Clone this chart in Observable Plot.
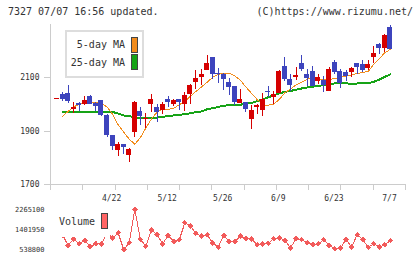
<!DOCTYPE html>
<html>
<head>
<meta charset="utf-8">
<script src="https://cdn.jsdelivr.net/npm/d3@7"></script>
<script src="https://cdn.jsdelivr.net/npm/@observablehq/plot@0.6"></script>
<style>
  html, body { margin: 0; padding: 0; background: #fff; }
  #wrap { position: relative; width: 420px; height: 259px; overflow: hidden;
          font-family: "DejaVu Sans Mono", monospace; color: #333; }
  #wrap svg { position: absolute; left: 0; shape-rendering: crispEdges; }
  .abs { position: absolute; white-space: nowrap; font-size: 10px; line-height: 12px; }
  .box { position: absolute; box-sizing: border-box; background: #fff; }
  .sw { position: absolute; box-sizing: border-box; border: 1px solid #444; }
</style>
</head>
<body>
<div id="wrap">
  <div class="abs" style="left:8px; top:6px;">7327 07/07 16:56 updated.</div>
  <div class="abs" style="right:7px; top:6px;">(C)https://www.rizumu.net/</div>
</div>
<script>
// Daily prices (open / high / low / close), one entry per trading day
const opens = [2018,2036,2041,1983,2004,1999,2030,2004,2014,1960,
  1882,1829,1849,1810,1895,1972,1942,1999,1987,1979,
  2017,1999,2017,1999,2039,2083,2100,2126,2175,2118,
  2111,2081,2066,2005,2007,1945,1989,1976,2049,2026,
  2041,2141,2095,2103,2152,2111,2122,2087,2091,2049,
  2156,2122,2120,2120,2154,2150,2135,2175,2224,2210,2288];
const highs = [2022,2045,2071,2007,2006,2030,2035,2006,2016,1962,
  1884,1856,1850,1835,2012,1989,1966,2039,2001,2007,
  2030,2020,2020,2045,2076,2126,2130,2182,2176,2135,
  2116,2097,2068,2058,2009,1995,2001,2040,2066,2049,
  2129,2175,2113,2138,2182,2130,2141,2111,2104,2139,
  2164,2133,2129,2137,2155,2164,2164,2216,2229,2261,2295];
const lows = [2018,2010,2004,1968,1972,1995,2000,1972,1955,1878,
  1826,1805,1814,1782,1876,1920,1911,1970,1932,1964,
  1989,1991,1978,1972,2001,2058,2070,2126,2095,2079,
  2051,2035,1995,2005,1970,1907,1964,1955,2026,2001,
  2040,2085,2049,2089,2122,2066,2066,2076,2045,2049,
  2111,2060,2086,2101,2111,2119,2126,2154,2188,2195,2205];
const closes = [2022,2020,2010,1988,1995,2014,2001,1992,1958,1885,
  1843,1851,1840,1830,2007,1955,1948,2020,1971,2001,
  2008,2014,2008,2032,2070,2097,2112,2154,2111,2112,
  2092,2062,2008,2020,1980,1976,1995,2020,2045,2036,
  2122,2095,2070,2108,2130,2099,2068,2101,2073,2130,
  2120,2079,2104,2135,2139,2127,2150,2191,2210,2258,2206];

// Moving averages
const ma5 = [null,1956,1974,1991,2001,2007,2007,2007,2004,1991,
  1963,1924,1896,1870,1851,1876,1912,1946,1971,1982,
  1982,1986,1999,2012,2031,2049,2066,2083,2102,2113,
  2118,2118,2107,2091,2065,2042,2019,1999,1997,2002,
  2019,2044,2058,2074,2083,2094,2102,2097,2092,2094,
  2097,2102,2106,2111,2116,2120,2124,2151,2173,2194,2207];
const ma25 = [null,1972,1972,1972,1972,1972,1972,1972,1972,1972,
  1972,1966,1959,1956,1952,1950,1948,1948,1951,1954,
  1956,1959,1961,1964,1967,1972,1974,1982,1986,1991,
  1995,1998,1998,1999,2004,2006,2012,2019,2027,2034,
  2042,2047,2051,2055,2060,2064,2067,2069,2073,2077,
  2079,2080,2080,2076,2079,2080,2080,2085,2093,2104,2113];

// Daily volume
const volumes = [1220000,1176000,711400,999200,783500,927200,668300,785300,781900,1258000,
  1028000,1258200,538800,826600,2265100,970400,682600,1390000,1171800,783500,
  1143000,884100,956000,1689700,1545700,1243800,1114200,1171800,826600,639400,
  1143000,884100,886200,1114200,999200,997800,740200,783500,812200,999200,
  1042400,927200,610700,999200,970400,826600,754600,783500,956000,711400,
  567600,596400,970400,639400,1171800,970400,639400,783500,641200,740200,927200];

// Axis labels
const dateLabels = ["4/22", "5/12", "5/26", "6/9", "6/23", "7/7"];
const dateLabelIdx = [10, 20, 30, 40, 50, 60];
const priceTicks = [1700, 1900, 2100];
const volumeTicks = [538800, 1401950, 2265100];

const RED = "#d60000", BLUE = "#3d44bd", ORANGE = "#f28c1c", GREEN = "#16a316", VOL = "#f25a5a", GRID = "#cccccc";

const rows = closes.map((c, i) => ({
  i, open: opens[i], high: highs[i], low: lows[i], close: c,
  ma5: ma5[i], ma25: ma25[i], col: c >= opens[i] ? RED : BLUE
}));
const vrows = volumes.map((v, i) => ({i, v}));

const xDomain = [-1.17, 62.7];
const hw = 0.45; // half body width in day units
const frameTicks = d3.range(12).map(k => xDomain[0] + k * (xDomain[1] - xDomain[0]) / 11);
const labelMap = new Map(dateLabelIdx.map((d, k) => [d, dateLabels[k]]));

const baseStyle = {background: "transparent", fontFamily: "DejaVu Sans Mono", color: "#333", overflow: "visible"};

const main = Plot.plot({
  width: 420, height: 205,
  marginLeft: 50, marginRight: 15, marginTop: 24, marginBottom: 21,
  style: {...baseStyle, fontSize: "8px"},
  x: {domain: xDomain, axis: null, label: null},
  y: {domain: [1700, 2300], axis: null, label: null},
  color: {type: "identity"},
  marks: [
    Plot.ruleY([1700], {stroke: GRID}),
    Plot.ruleX([xDomain[0]], {stroke: GRID}),
    Plot.axisX({ticks: frameTicks, tickSize: 6, tickFormat: () => "", stroke: GRID, label: null}),
    Plot.axisX({ticks: dateLabelIdx, tickSize: 0, tickPadding: 11, dx: -1,
      tickFormat: d => labelMap.get(d), fill: "#333", label: null}),
    Plot.axisY({ticks: priceTicks, tickSize: 6, tickPadding: 5, stroke: GRID, fill: "#333",
      tickFormat: d => String(d), label: null}),
    Plot.line(rows, {x: "i", y: "ma25", stroke: GREEN, strokeWidth: 2}),
    Plot.line(rows, {x: "i", y: "ma5", stroke: ORANGE, strokeWidth: 1}),
    Plot.ruleX(rows, {x: "i", y1: "low", y2: "high", stroke: "col", strokeWidth: 1}),
    Plot.rect(rows, {x1: d => d.i - hw, x2: d => d.i + hw, y1: "open", y2: "close", fill: "col"})
  ]
});
main.style.top = "0px";

const vol = Plot.plot({
  width: 420, height: 54,
  marginLeft: 50, marginRight: 15, marginTop: 4, marginBottom: 10,
  style: {...baseStyle, fontSize: "7px"},
  x: {domain: xDomain, axis: null, label: null},
  y: {domain: [d3.min(volumes), d3.max(volumes)], axis: null, label: null},
  marks: [
    Plot.axisY({ticks: volumeTicks, tickSize: 0, tickPadding: 6, fill: "#333",
      tickFormat: d => String(d), label: null}),
    Plot.line(vrows, {x: "i", y: "v", stroke: VOL, strokeWidth: 1}),
    Plot.dot(vrows, {x: "i", y: "v", symbol: "diamond2", r: 2.6, fill: VOL, stroke: "none"})
  ]
});
vol.style.top = "205px";

const wrap = document.getElementById("wrap");
wrap.appendChild(main);
wrap.appendChild(vol);

// Legends drawn over the panels
function add(html) { wrap.insertAdjacentHTML("beforeend", html); }
add(`<div class="box" style="left:65px;top:30px;width:79px;height:48px;border:2px solid #ddd;"></div>`);
add(`<div class="abs" style="right:295px;top:39px;">5-day MA</div>`);
add(`<div class="abs" style="right:295px;top:57px;">25-day MA</div>`);
add(`<div class="sw" style="left:131px;top:37px;width:7px;height:16px;background:${ORANGE};"></div>`);
add(`<div class="sw" style="left:131px;top:54px;width:7px;height:16px;background:${GREEN};"></div>`);
add(`<div class="box" style="left:52px;top:210px;width:58px;height:27px;"></div>`);
add(`<div class="abs" style="left:59px;top:216px;">Volume</div>`);
add(`<div class="sw" style="left:101px;top:213px;width:7px;height:16px;background:#ff6464;"></div>`);
</script>
</body>
</html>
